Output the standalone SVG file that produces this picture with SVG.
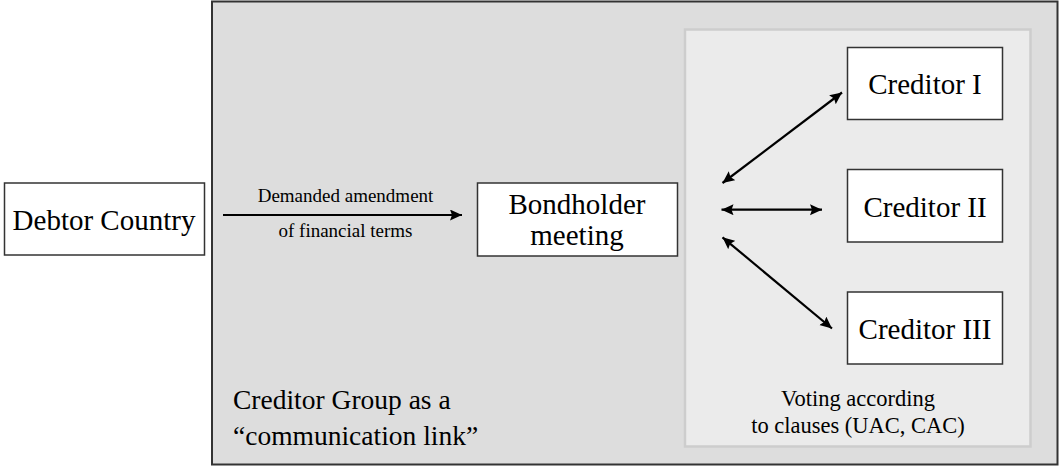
<svg xmlns="http://www.w3.org/2000/svg" width="1059" height="466" viewBox="0 0 1059 466">
<style>
.box{fill:#fff;stroke:#333;stroke-width:1.5}
.t{font-family:"Liberation Serif","Times New Roman",serif;fill:#000;text-anchor:middle}
.conn{stroke:#000;stroke-width:2.2;fill:none}
</style>
<defs>
<marker id="ah" markerUnits="userSpaceOnUse" markerWidth="14" markerHeight="12" refX="12" refY="5.5" orient="auto-start-reverse">
<path d="M0,0 L12,5.5 L0,11 L2,5.5 Z" fill="#000"/>
</marker>
</defs>
<g id="creditor-group">
<rect x="212" y="1.5" width="845.5" height="463" fill="#dddddd" stroke="#333" stroke-width="2"/>
<text class="t" x="233" y="409" font-size="27.5" style="text-anchor:start">Creditor Group as a</text>
<text class="t" x="233" y="445" font-size="27.5" style="text-anchor:start">“communication link”</text>
</g>
<g id="voting-panel">
<rect x="685" y="29.5" width="345.5" height="417" fill="#ebebeb" stroke="#cdcdcd" stroke-width="2.5"/>
<text class="t" x="858" y="406" font-size="22.5">Voting according</text>
<text class="t" x="858" y="433" font-size="22.5">to clauses (UAC, CAC)</text>
</g>
<g id="debtor">
<rect class="box" x="4.5" y="183" width="200" height="72"/>
<text class="t" x="104" y="229.5" font-size="29">Debtor Country</text>
</g>
<g id="bondholder">
<rect class="box" x="477.5" y="183" width="200" height="73"/>
<text class="t" x="577" y="214" font-size="29">Bondholder</text>
<text class="t" x="577" y="245" font-size="29">meeting</text>
</g>
<g id="creditor1">
<rect class="box" x="847.5" y="47.5" width="155" height="72"/>
<text class="t" x="925" y="94" font-size="29">Creditor I</text>
</g>
<g id="creditor2">
<rect class="box" x="847.5" y="169.5" width="155" height="72.5"/>
<text class="t" x="925" y="216.5" font-size="29">Creditor II</text>
</g>
<g id="creditor3">
<rect class="box" x="847.5" y="292" width="155" height="72"/>
<text class="t" x="925" y="339" font-size="29">Creditor III</text>
</g>
<g id="connectors">
<line class="conn" x1="223" y1="215" x2="462" y2="215" marker-end="url(#ah)"/>
<text class="t" x="345.5" y="202" font-size="19">Demanded amendment</text>
<text class="t" x="345.5" y="236.5" font-size="19">of financial terms</text>
<line class="conn" x1="722.5" y1="183" x2="842" y2="92.5" marker-start="url(#ah)" marker-end="url(#ah)"/>
<line class="conn" x1="721.5" y1="209.7" x2="822" y2="209.7" marker-start="url(#ah)" marker-end="url(#ah)"/>
<line class="conn" x1="722.5" y1="237.3" x2="832" y2="328.5" marker-start="url(#ah)" marker-end="url(#ah)"/>
</g>
</svg>
